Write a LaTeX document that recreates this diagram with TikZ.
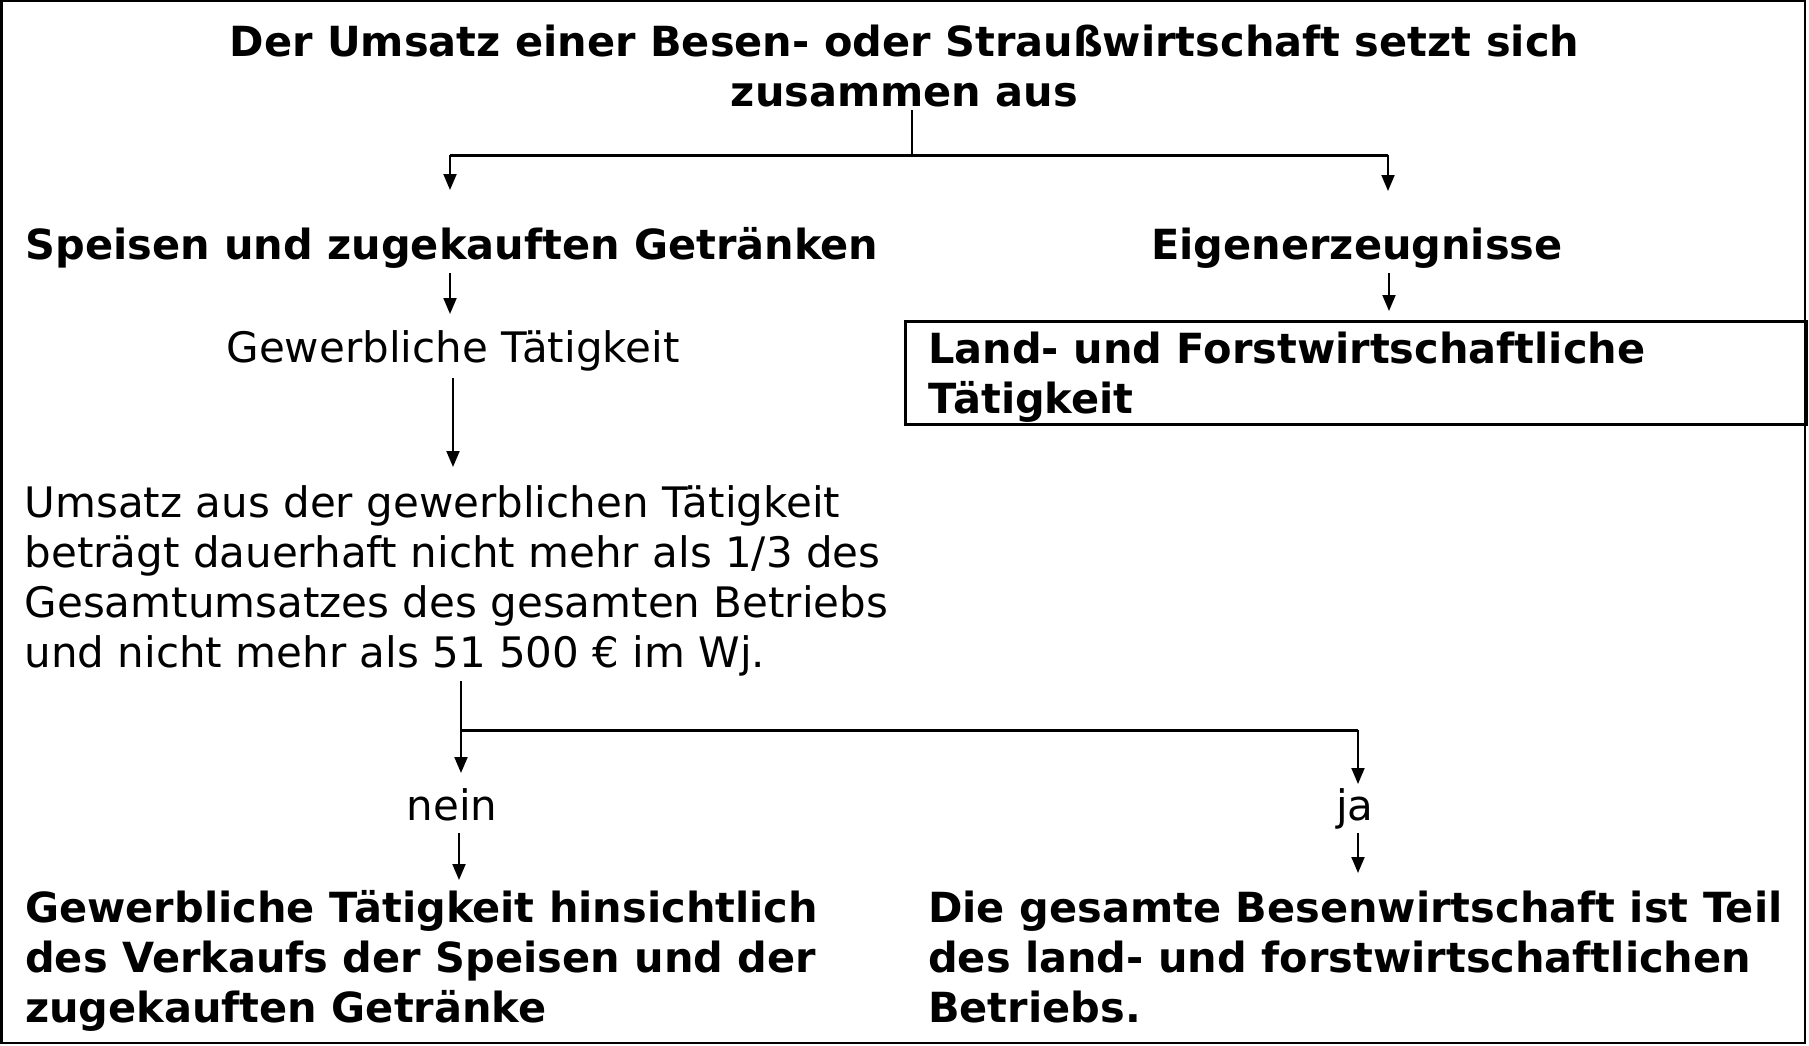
\documentclass[tikz,border=0pt]{standalone}
\usepackage{fontspec}
\setmainfont{DejaVu Sans}
\usetikzlibrary{arrows.meta}
\begin{document}
\begin{tikzpicture}[x=1pt,y=-1pt,
  txt/.style={inner sep=0pt, font=\fontsize{42}{50}\selectfont},
  boldtxt/.style={inner sep=0pt, font=\fontsize{41.5}{50}\selectfont\bfseries},
  conn/.style={line width=2pt},
  bar/.style={line width=3pt},
  arr/.style={line width=2pt, -{Triangle[length=16pt,width=13pt]}},
  framebox/.style={draw, line width=2.5pt, inner sep=0pt}]
\useasboundingbox (0,0) rectangle (1809,1046);
\draw[line width=2.5pt] (1.25,1.25) rectangle (1805,1043);

% texts
\node[boldtxt, anchor=base] (title) at (904.5,57)
  {\begin{tabular}[t]{@{}c@{}}Der Umsatz einer Besen- oder Straußwirtschaft setzt sich\\zusammen aus\end{tabular}};
\node[boldtxt, anchor=base] (speisen) at (452,259) {Speisen und zugekauften Getränken};
\node[boldtxt, anchor=base] (eigen) at (1357,259) {Eigenerzeugnisse};
\node[txt, anchor=base] (gew) at (453,362.5) {Gewerbliche Tätigkeit};
\node[framebox, anchor=north west, minimum width=901pt, minimum height=103pt] (lfbox) at (904,320) {};
\node[boldtxt, anchor=base west] (lftext) at (928,363)
  {\begin{tabular}[t]{@{}l@{}}Land- und Forstwirtschaftliche\\Tätigkeit\end{tabular}};
\node[txt, anchor=base west] (umsatz) at (24.5,517.5)
  {\begin{tabular}[t]{@{}l@{}}Umsatz aus der gewerblichen Tätigkeit\\beträgt dauerhaft nicht mehr als 1/3 des\\Gesamtumsatzes des gesamten Betriebs\\und nicht mehr als 51 500 € im Wj.\end{tabular}};
\node[txt, anchor=base] (nein) at (452,820) {nein};
\node[txt, anchor=base] (ja) at (1355,820) {ja};
\node[boldtxt, anchor=base west] (gewend) at (25,922)
  {\begin{tabular}[t]{@{}l@{}}Gewerbliche Tätigkeit hinsichtlich\\des Verkaufs der Speisen und der\\zugekauften Getränke\end{tabular}};
\node[boldtxt, anchor=base west] (lfend) at (928,922)
  {\begin{tabular}[t]{@{}l@{}}Die gesamte Besenwirtschaft ist Teil\\des land- und forstwirtschaftlichen\\Betriebs.\end{tabular}};

% connector points
\coordinate (t0) at (912,110);
\coordinate (j1) at (912,155);
\coordinate (l1) at (450,155);
\coordinate (r1) at (1388,155);
\coordinate (l1e) at (450,190);
\coordinate (r1e) at (1388,191);
\coordinate (s0) at (450,273);
\coordinate (s1) at (450,314);
\coordinate (e0) at (1389,273);
\coordinate (e1) at (1389,311);
\coordinate (g0) at (453,378);
\coordinate (g1) at (453,467);
\coordinate (u0) at (461,681);
\coordinate (u1) at (461,730);
\coordinate (u2) at (461,773);
\coordinate (v1) at (1358,730);
\coordinate (v2) at (1358,784);
\coordinate (n0) at (459,833);
\coordinate (n1) at (459,880);
\coordinate (y0) at (1358,833);
\coordinate (y1) at (1358,873);

\draw[conn] (t0) -- (j1);
\draw[bar] (l1) -- (r1);
\draw[arr] (l1) -- (l1e);
\draw[arr] (r1) -- (r1e);
\draw[arr] (s0) -- (s1);
\draw[arr] (e0) -- (e1);
\draw[arr] (g0) -- (g1);
\draw[arr] (u0) -- (u2);
\draw[bar] (u1) -- (v1);
\draw[arr] (v1) -- (v2);
\draw[arr] (n0) -- (n1);
\draw[arr] (y0) -- (y1);
\end{tikzpicture}
\end{document}
